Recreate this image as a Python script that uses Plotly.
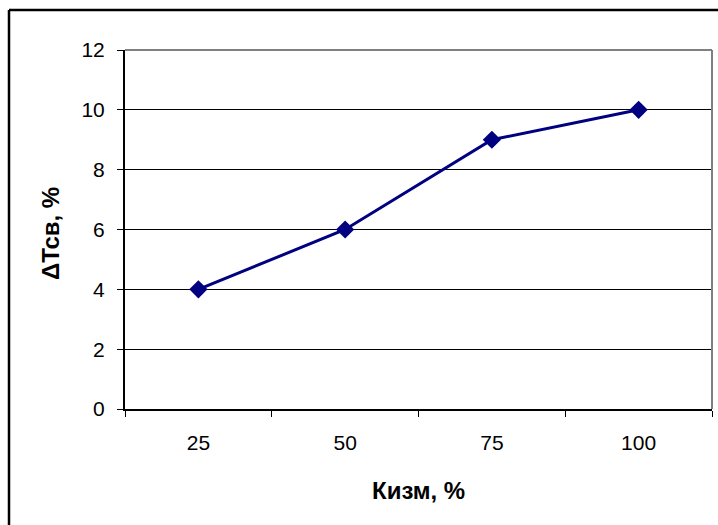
import plotly.graph_objects as go

categories = ["25", "50", "75", "100"]
values = [4, 6, 9, 10]
y_ticks = [0, 2, 4, 6, 8, 10, 12]

x_title = "Кизм, %"
y_title = "ΔТсв, %"

W, H = 718, 525
L, R, T, B = 125, 6, 50, 116
pw, ph = W - L - R, H - T - B

fig = go.Figure()
fig.add_trace(go.Scatter(
    x=categories, y=values, mode="lines+markers",
    line=dict(color="#000080", width=3),
    marker=dict(symbol="diamond", size=14, color="#000080"),
    showlegend=False,
))

font = dict(family="Liberation Sans, Arial, sans-serif", size=21, color="black")

fig.update_layout(
    width=W, height=H,
    margin=dict(l=L, r=R, t=T, b=B, pad=0),
    paper_bgcolor="white", plot_bgcolor="white",
    font=font,
    xaxis=dict(
        type="category", range=[-0.5, 3.5], tickson="boundaries",
        ticks="outside", ticklen=6, tickwidth=1, tickcolor="black",
        showline=True, linecolor="black", linewidth=2, showgrid=False,
        zeroline=False, tickfont=font, ticklabelstandoff=14,
    ),
    yaxis=dict(
        range=[0, 12], tickvals=y_ticks, ticktext=[str(v) for v in y_ticks],
        ticks="outside", ticklen=6, tickwidth=1, tickcolor="black",
        showline=True, linecolor="black", linewidth=2,
        showgrid=True, gridcolor="black", gridwidth=1,
        zeroline=False, tickfont=font, ticklabelstandoff=8,
    ),
)

# plot-area border (top and right, grey)
fig.add_shape(type="line", xref="paper", yref="paper", x0=0, x1=1, y0=1, y1=1,
              line=dict(color="#808080", width=2))
fig.add_shape(type="line", xref="paper", yref="paper", x0=1, x1=1, y0=0, y1=1,
              line=dict(color="#808080", width=2))

# outer chart border (left and top visible)
def px_x(p):
    return (p - L) / pw

def px_y(p):
    return (H - B - p) / ph

fig.add_shape(type="line", xref="paper", yref="paper",
              x0=px_x(9), x1=px_x(9), y0=px_y(10), y1=px_y(H + 5),
              line=dict(color="black", width=2.5))
fig.add_shape(type="line", xref="paper", yref="paper",
              x0=px_x(9), x1=px_x(W + 5), y0=px_y(10), y1=px_y(10),
              line=dict(color="black", width=2.5))

bold = dict(family="Liberation Sans, Arial, sans-serif", size=24, color="black", weight="bold")
fig.add_annotation(text="<b>" + x_title + "</b>", xref="paper", yref="paper",
                   x=px_x(419), y=px_y(490), showarrow=False, font=bold,
                   xanchor="center", yanchor="middle")
fig.add_annotation(text="<b>" + y_title + "</b>", xref="paper", yref="paper",
                   x=px_x(50), y=px_y(234), showarrow=False, font=bold,
                   textangle=-90, xanchor="center", yanchor="middle")

fig.write_html("out.html")
